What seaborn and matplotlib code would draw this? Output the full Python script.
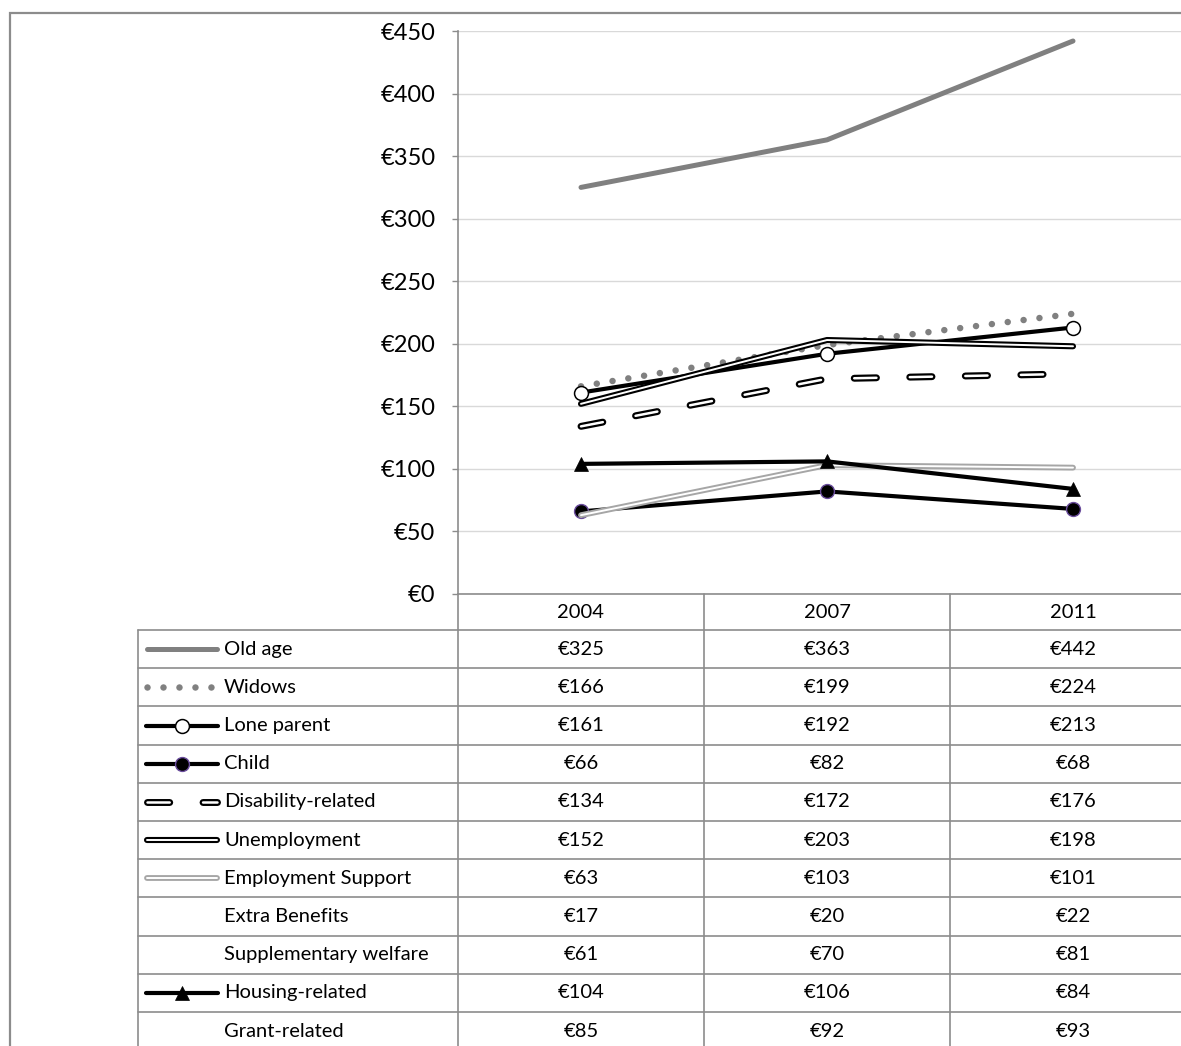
import matplotlib
matplotlib.use('Agg')
import matplotlib.pyplot as plt
import seaborn as sns
import pandas as pd
import numpy as np
from matplotlib import patheffects as pe
from matplotlib.transforms import blended_transform_factory

# ---------------- data ----------------
years = ['2004', '2007', '2011']
series_names = ['Old age', 'Widows', 'Lone parent', 'Child', 'Disability-related',
                'Unemployment', 'Employment Support', 'Extra Benefits',
                'Supplementary welfare', 'Housing-related', 'Grant-related']
old_age = [325, 363, 442]
widows = [166, 199, 224]
lone_parent = [161, 192, 213]
child = [66, 82, 68]
disability = [134, 172, 176]
unemployment = [152, 203, 198]
employment_support = [63, 103, 101]
extra_benefits = [17, 20, 22]
supplementary_welfare = [61, 70, 81]
housing = [104, 106, 84]
grant = [85, 92, 93]
values = [old_age, widows, lone_parent, child, disability, unemployment,
          employment_support, extra_benefits, supplementary_welfare, housing, grant]
plotted = ['Old age', 'Widows', 'Lone parent', 'Child', 'Disability-related',
           'Unemployment', 'Employment Support', 'Housing-related']
y_ticks = [0, 50, 100, 150, 200, 250, 300, 350, 400, 450]

rows = []
for name, vals in zip(series_names, values):
    for i, (yr, v) in enumerate(zip(years, vals)):
        rows.append({'series': name, 'year': yr, 'pos': i, 'value': v})
df = pd.DataFrame(rows)

# ---------------- style ----------------
sns.set_style('white')
plt.rcParams['font.family'] = ['Lato', 'DejaVu Sans']
plt.rcParams['lines.scale_dashes'] = False
plt.rcParams['text.color'] = 'black'
plt.rcParams['ytick.labelcolor'] = 'black'

W, H = 1181, 1046
GRID = '#d9d9d9'
AX = '#8c8c8c'

fig = plt.figure(figsize=(W / 100, H / 100), dpi=100)
ov = fig.add_axes([0, 0, 1, 1])
ov.set_xlim(0, W)
ov.set_ylim(H, 0)
ov.axis('off')

ax = fig.add_axes([458 / W, 1 - 594 / H, (W - 458) / W, (594 - 31) / H])
ax.set_facecolor('none')

styles = {
    'Old age': dict(color='#808080', linewidth=3.6, solid_capstyle='round'),
    'Widows': dict(color='#808080', linewidth=4.7, dash_capstyle='round', linestyle='--'),
    'Lone parent': dict(color='black', linewidth=3.0, marker='o', markersize=10,
                        markerfacecolor='white', markeredgecolor='black', markeredgewidth=1.1),
    'Child': dict(color='black', linewidth=3.0, marker='o', markersize=10,
                  markerfacecolor='black', markeredgecolor='#6a4c9c', markeredgewidth=1.0),
    'Disability-related': dict(color='white', linewidth=1.8, dash_capstyle='round',
                               linestyle='--'),
    'Unemployment': dict(color='white', linewidth=1.4, solid_capstyle='round'),
    'Employment Support': dict(color='white', linewidth=1.4, solid_capstyle='round'),
    'Housing-related': dict(color='black', linewidth=3.0, marker='^', markersize=10.5,
                            markerfacecolor='black', markeredgecolor='black', markeredgewidth=0.5),
}


def finish(line, name):
    if name == 'Widows':
        line.set_dashes((0.01, 11.5))
    if name == 'Disability-related':
        line.set_dashes((16, 24))
        line.set_path_effects([pe.Stroke(linewidth=5.0, foreground='black'), pe.Normal()])
    if name == 'Unemployment':
        line.set_path_effects([pe.Stroke(linewidth=4.4, foreground='black'), pe.Normal()])
    if name == 'Employment Support':
        line.set_path_effects([pe.Stroke(linewidth=4.2, foreground='#a6a6a6'), pe.Normal()])


for z, name in enumerate(plotted):
    sub = df[df['series'] == name]
    n_before = len(ax.lines)
    sns.lineplot(data=sub, x='pos', y='value', ax=ax, errorbar=None, zorder=3 + z,
                 **styles[name])
    for line in ax.lines[n_before:]:
        finish(line, name)

ax.set_xlim(-0.5, -0.5 + (W - 458) / 246)
ax.set_ylim(0, 450)
ax.set_xticks([])
ax.set_yticks(y_ticks)
ax.set_yticklabels([f'€{v}' for v in y_ticks])
ax.set_xlabel('')
ax.set_ylabel('')
ax.tick_params(axis='y', length=4.3, width=1.0, color=AX, pad=12, labelsize=17,
               left=True, labelcolor='black')
ax.grid(axis='y', color=GRID, linewidth=1.0)
ax.grid(axis='x', visible=False)
ax.set_axisbelow(True)
for s in ['top', 'right']:
    ax.spines[s].set_visible(False)
for s in ['left', 'bottom']:
    ax.spines[s].set_color(AX)
    ax.spines[s].set_linewidth(1.2)

# ---------------- table below chart ----------------
blend = blended_transform_factory(ax.transData, ov.transData)
row0, rh = 630, 38.2
LW = 1.2

# outer chart border
ov.plot([10, 10, W], [H, 13, 13], color=AX, linewidth=1.6, solid_joinstyle='miter')

# horizontal table lines
for k in range(len(series_names) + 1):
    yy = row0 + rh * k
    if yy < H:
        ov.plot([138, W], [yy, yy], color=AX, linewidth=LW)
# vertical table lines
ov.plot([138, 138], [row0, H], color=AX, linewidth=LW)
ov.plot([458, 458], [594, H], color=AX, linewidth=LW)
for xb in [0.5, 1.5]:
    ax.plot([xb, xb], [594, H], color=AX, linewidth=LW, transform=blend, clip_on=False)

# header (years)
for i, yr in enumerate(years):
    ax.text(i, 612, yr, transform=blend, ha='center', va='center', fontsize=14.5,
            color='black', clip_on=False)

# rows
for r, (name, vals) in enumerate(zip(series_names, values)):
    yc = row0 + rh * (r + 0.5)
    ov.text(224, yc, name, ha='left', va='center', fontsize=14.5, color='black')
    for i, v in enumerate(vals):
        ax.text(i, yc, f'€{v}', transform=blend, ha='center', va='center',
                fontsize=14.5, color='black', clip_on=False)
    if name in styles:
        kw = dict(styles[name])
        if 'marker' in kw:
            ln, = ov.plot([146, 182, 218], [yc, yc, yc], markevery=[1], **kw)
        else:
            ln, = ov.plot([147, 217], [yc, yc], **kw)
        finish(ln, name)

fig.savefig('out.png', dpi=100)
